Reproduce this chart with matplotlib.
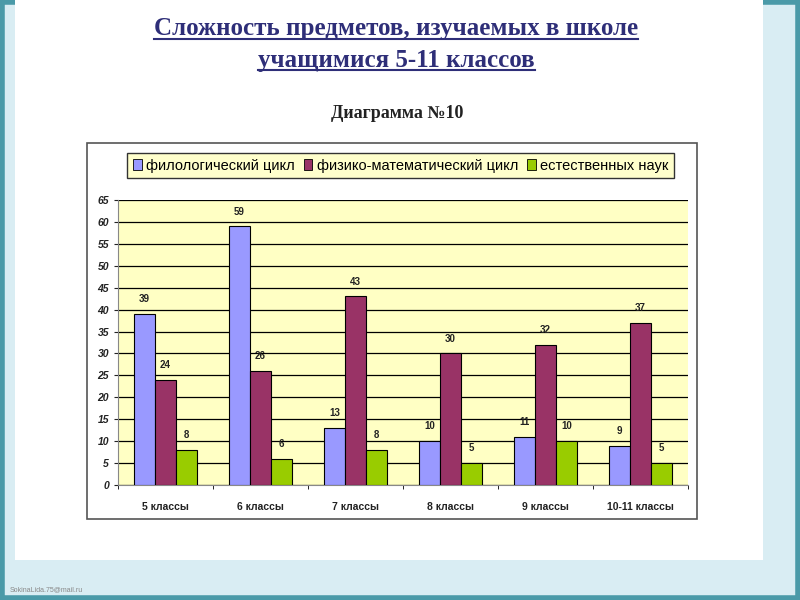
import numpy as np
import matplotlib.pyplot as plt
from matplotlib.patches import Rectangle, Patch
from matplotlib.lines import Line2D

groups = ["5 классы", "6 классы", "7 классы", "8 классы", "9 классы", "10-11 классы"]
philology = [39, 59, 13, 10, 11, 9]
physmath = [24, 26, 43, 30, 32, 37]
natural = [8, 6, 8, 5, 10, 5]
series_names = ["филологический цикл", "физико-математический цикл", "естественных наук"]
colors = ["#9999ff", "#993366", "#99cc00"]

plt.rcParams["font.family"] = ["Liberation Sans", "DejaVu Sans"]

fig = plt.figure(figsize=(8, 6), dpi=100)
fig.patch.set_facecolor("#d9edf3")

# slide decoration: teal frame and white panel
fig.add_artist(Rectangle((0.003, 0.003), 0.994, 0.994, transform=fig.transFigure,
                         fill=False, ec="#4a9aa8", lw=4, zorder=-3))
fig.add_artist(Rectangle((0.019, 0.067), 0.935, 0.94, transform=fig.transFigure,
                         fc="white", ec="none", zorder=-2))

# titles
t1 = fig.text(0.4955, 0.952, "Сложность предметов, изучаемых в школе",
              ha="center", va="center", fontsize=18, fontweight="bold",
              family="Liberation Serif", color="#2e2e78")
t2 = fig.text(0.4955, 0.900, "учащимися 5-11 классов",
              ha="center", va="center", fontsize=18, fontweight="bold",
              family="Liberation Serif", color="#2e2e78")
fig.text(0.497, 0.811, "Диаграмма №10", ha="center", va="center",
         fontsize=13, fontweight="bold", family="Liberation Serif", color="#222222")

# underline titles
fig.canvas.draw()
r = fig.canvas.get_renderer()
for t in (t1, t2):
    bb = t.get_window_extent(r).transformed(fig.transFigure.inverted())
    fig.add_artist(Line2D([bb.x0, bb.x1], [bb.y0 + 0.002, bb.y0 + 0.002],
                          transform=fig.transFigure, color="#2e2e78", lw=1.5))

# chart frame
fig.add_artist(Rectangle((0.109, 0.135), 0.762, 0.627, transform=fig.transFigure,
                         fc="white", ec="#555555", lw=1.2, zorder=-1))

ax = fig.add_axes([0.1475, 0.1917, 0.7125, 0.475])
ax.set_facecolor("#ffffc4")

x = np.arange(len(groups))
w = 0.22
for i, (vals, c) in enumerate(zip([philology, physmath, natural], colors)):
    bars = ax.bar(x + (i - 1) * w, vals, w, color=c, edgecolor="black", lw=0.8,
                  zorder=3, label=series_names[i])
    for b, v in zip(bars, vals):
        ax.text(b.get_x() + b.get_width() / 2, v + 2.2, str(v), ha="center",
                va="bottom", fontsize=7, fontweight="bold", color="#222222")

ax.set_xlim(-0.5, len(groups) - 0.5)
ax.set_ylim(0, 65)
ax.set_yticks(range(0, 66, 5))
ax.yaxis.grid(True, color="black", lw=0.9, zorder=0)
ax.set_axisbelow(True)
ax.tick_params(axis="y", labelsize=7.5, length=3, colors="#222222")
for lbl in ax.get_yticklabels():
    lbl.set_fontstyle("italic")
    lbl.set_fontweight("bold")

ax.set_xticks(x)
ax.set_xticklabels(groups, fontsize=7.5, fontweight="bold", color="#222222")
ax.set_xticks(np.arange(-0.5, len(groups)), minor=True)
ax.tick_params(axis="x", which="major", length=0, pad=12)
ax.tick_params(axis="x", which="minor", length=3)

for s in ["top", "right"]:
    ax.spines[s].set_visible(False)
ax.spines["left"].set_color("#888888")
ax.spines["bottom"].set_color("#888888")

handles = [Patch(fc=c, ec="black", lw=0.6) for c in colors]
leg = fig.legend(handles, series_names, loc="center", bbox_to_anchor=(0.501, 0.724),
                 ncol=3, fontsize=10.5, frameon=True, fancybox=False,
                 handlelength=0.6, handleheight=0.8, handletextpad=0.3,
                 columnspacing=0.6, borderpad=0.4)
leg.get_frame().set_facecolor("#ffffcc")
leg.get_frame().set_edgecolor("#333333")
leg.get_frame().set_alpha(1)

fig.text(0.012, 0.015, "SokinaLida.75@mail.ru", fontsize=5, color="#888888")

fig.savefig("out.png", dpi=100, facecolor=fig.get_facecolor())
